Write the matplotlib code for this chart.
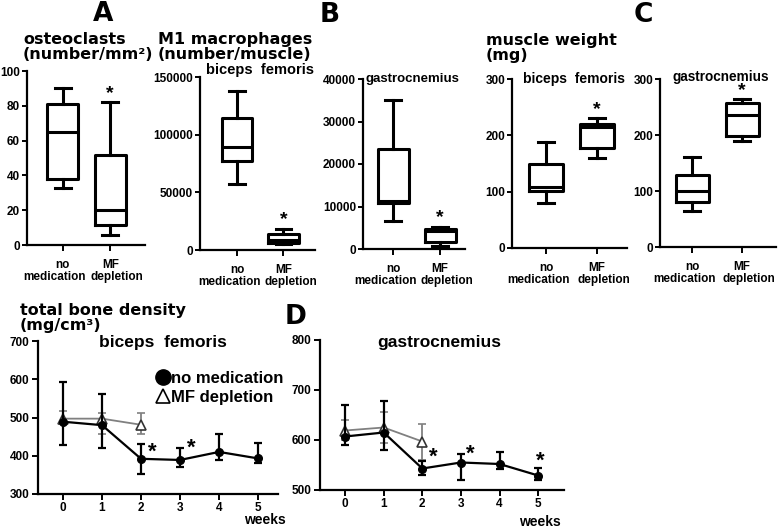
import numpy as np
import matplotlib.pyplot as plt
from matplotlib.lines import Line2D

plt.rcParams['font.family'] = ['Liberation Sans', 'DejaVu Sans']
plt.rcParams['font.weight'] = 'bold'

W, H = 778, 529
PT = 0.72  # points per pixel at dpi 100

groups_top = ['no', 'MF']
groups_bot = ['medication', 'depletion']

# box stats: whislo, q1, med, q3, whishi
osteo_no = [33, 38, 65, 81, 90]
osteo_mf = [6, 11.5, 20, 51.5, 82]
m1_bf_no = [57300, 77200, 89000, 114700, 138100]
m1_bf_mf = [5500, 5800, 9000, 14000, 18500]
m1_gc_no = [6700, 10800, 11200, 23500, 35000]
m1_gc_mf = [600, 1700, 4300, 4600, 5200]
wt_bf_no = [80, 101, 108, 149, 188]
wt_bf_mf = [160, 178, 215, 221, 230]
wt_gc_no = [64, 81, 100, 129, 160]
wt_gc_mf = [189, 199, 236, 258, 264]

# bone density time course
weeks = [0, 1, 2, 3, 4, 5]
weeks_mf = [0, 1, 2]
bd_bf_no = [489, 480, 392, 389, 410, 393]
bd_bf_no_lo = [60, 60, 40, 18, 21, 11]
bd_bf_no_hi = [103, 81, 38, 32, 47, 41]
bd_bf_mf = [497, 497, 481]
bd_bf_mf_lo = [69, 40, 24]
bd_bf_mf_hi = [20, 16, 30]
bd_gc_no = [607, 615, 543, 555, 552, 529]
bd_gc_no_lo = [16, 34, 12, 35, 10, 8]
bd_gc_no_hi = [64, 63, 16, 18, 25, 16]
bd_gc_mf = [619, 625, 597]
bd_gc_mf_lo = [19, 30, 37]
bd_gc_mf_hi = [21, 32, 36]

fig = plt.figure(figsize=(W / 100, H / 100), dpi=100)


def px_axes(l, t, r, b):
    return fig.add_axes([l / W, 1 - b / H, (r - l) / W, (b - t) / H])


def style(ax, fs=8.5):
    for s in ['top', 'right']:
        ax.spines[s].set_visible(False)
    for s in ['left', 'bottom']:
        ax.spines[s].set_linewidth(1.6)
    ax.tick_params(width=1.4, length=4, labelsize=fs, colors='black', pad=2)


def box_panel(rect, no, mf, ymax, yticks, xlim, sub=None, sub_x=0.5, sub_dy=0.0, sub_fs=9.5):
    ax = px_axes(*rect)
    stats = []
    for v in (no, mf):
        stats.append(dict(whislo=v[0], q1=v[1], med=v[2], q3=v[3], whishi=v[4], fliers=[]))
    lp = dict(linewidth=2.2, color='black')
    ax.bxp(stats, positions=[1, 2], widths=0.66, showfliers=False,
           boxprops=lp, medianprops=lp, whiskerprops=lp, capprops=lp)
    ax.set_ylim(0, ymax)
    ax.set_yticks(yticks)
    ax.set_xlim(*xlim)
    ax.set_xticks([1, 2])
    ax.set_xticklabels(groups_top)
    style(ax)
    ax.tick_params(axis='x', pad=6)
    ax.tick_params(axis='y', pad=1.5, length=3.5)
    for pos, lab, dx in zip([1, 2], groups_bot, [-8, 7]):
        ax.annotate(lab, xy=(pos, 0), xycoords=('data', 'axes fraction'),
                    xytext=(dx * PT, -32 * PT), textcoords='offset points',
                    ha='center', va='center', fontsize=8.5)
    ax.text(2, mf[4] + ymax * 0.002, '*', ha='center', va='bottom', fontsize=14)
    if sub:
        ax.text(sub_x, 1.0 + sub_dy, sub, transform=ax.transAxes, ha='center', va='center',
                fontsize=sub_fs)
    return ax


box_panel((27, 71, 145, 245), osteo_no, osteo_mf, 100, [0, 20, 40, 60, 80, 100], (0.25, 2.73))
box_panel((200, 77, 315, 250), m1_bf_no, m1_bf_mf, 150000, [0, 50000, 100000, 150000], (0.2, 2.68),
          sub='biceps  femoris', sub_x=0.52, sub_dy=0.04, sub_fs=10.5)
box_panel((363, 79, 465, 249), m1_gc_no, m1_gc_mf, 40000, [0, 10000, 20000, 30000, 40000], (0.36, 2.53),
          sub='gastrocnemius', sub_x=0.48)
box_panel((512, 79, 627, 248), wt_bf_no, wt_bf_mf, 300, [0, 100, 200, 300], (0.33, 2.59),
          sub='biceps  femoris', sub_x=0.54, sub_fs=10)
box_panel((660, 79, 776, 247), wt_gc_no, wt_gc_mf, 300, [0, 100, 200, 300], (0.36, 2.68),
          sub='gastrocnemius', sub_x=0.52, sub_dy=0.012, sub_fs=9.8)

fig.text(103 / W, 1 - 14 / H, 'A', ha='center', va='center', fontsize=19, family='DejaVu Sans')
fig.text(330 / W, 1 - 15 / H, 'B', ha='center', va='center', fontsize=19, family='DejaVu Sans')
fig.text(643 / W, 1 - 15 / H, 'C', ha='center', va='center', fontsize=19, family='DejaVu Sans')
fig.text(296 / W, 1 - 317 / H, 'D', ha='center', va='center', fontsize=19, family='DejaVu Sans')

title_kw = dict(ha='left', va='center', fontsize=11.5, linespacing=0.95, family='DejaVu Sans')
fig.text(23 / W, 1 - 47 / H, 'osteoclasts\n(number/mm²)', **title_kw)
fig.text(158 / W, 1 - 47 / H, 'M1 macrophages\n(number/muscle)', **title_kw)
fig.text(486 / W, 1 - 48 / H, 'muscle weight\n(mg)', **title_kw)
fig.text(20 / W, 1 - 318 / H, 'total bone density\n(mg/cm³)', **title_kw)


def line_panel(rect, ylim, yticks, xlim, no, no_lo, no_hi, mf, mf_lo, mf_hi, stars):
    ax = px_axes(*rect)
    ax.errorbar(weeks_mf, mf, yerr=[mf_lo, mf_hi], color='gray', lw=1.3, capsize=3,
                elinewidth=1.3, capthick=1.3, marker='^', ms=7, mfc='white', mec='#333333',
                mew=1.2, zorder=2)
    ax.errorbar(weeks, no, yerr=[no_lo, no_hi], color='black', lw=1.6, capsize=3,
                elinewidth=1.6, capthick=1.6, marker='o', ms=5.5, mfc='black', mec='black', zorder=3)
    ax.set_ylim(*ylim)
    ax.set_yticks(yticks)
    ax.set_xlim(*xlim)
    ax.set_xticks(weeks)
    style(ax, fs=8.5)
    for sx, sy in stars:
        ax.text(sx, sy, '*', ha='center', va='center', fontsize=16)
    return ax


ax1 = line_panel((38, 341, 278, 494), (300, 700), [300, 400, 500, 600, 700], (-0.64, 5.51),
                 bd_bf_no, bd_bf_no_lo, bd_bf_no_hi, bd_bf_mf, bd_bf_mf_lo, bd_bf_mf_hi,
                 [(2.3, 408), (3.3, 420)])
ax1.text(0.52, 0.99, 'biceps  femoris', transform=ax1.transAxes, ha='center', va='center', fontsize=12.5)
ax1.text(0.946, -0.17, 'weeks', transform=ax1.transAxes, ha='center', va='center', fontsize=10)
handles = [Line2D([], [], ls='none', marker='o', ms=11, mfc='black', mec='black'),
           Line2D([], [], ls='none', marker='^', ms=10, mfc='white', mec='black', mew=1.2)]
ax1.legend(handles, ['no medication', 'MF depletion'], loc='upper left', bbox_to_anchor=(0.46, 0.86),
           frameon=False, handlelength=0.8, handletextpad=0.05, fontsize=12, labelspacing=0.25,
           borderpad=0)

ax2 = line_panel((320, 340, 564, 490), (500, 800), [500, 600, 700, 800], (-0.65, 5.67),
                 bd_gc_no, bd_gc_no_lo, bd_gc_no_hi, bd_gc_mf, bd_gc_mf_lo, bd_gc_mf_hi,
                 [(2.28, 566), (3.24, 572), (5.05, 558)])
ax2.text(0.49, 0.98, 'gastrocnemius', transform=ax2.transAxes, ha='center', va='center', fontsize=12.5)
ax2.text(0.90, -0.213, 'weeks', transform=ax2.transAxes, ha='center', va='center', fontsize=10)

fig.savefig('out.png', dpi=100)
